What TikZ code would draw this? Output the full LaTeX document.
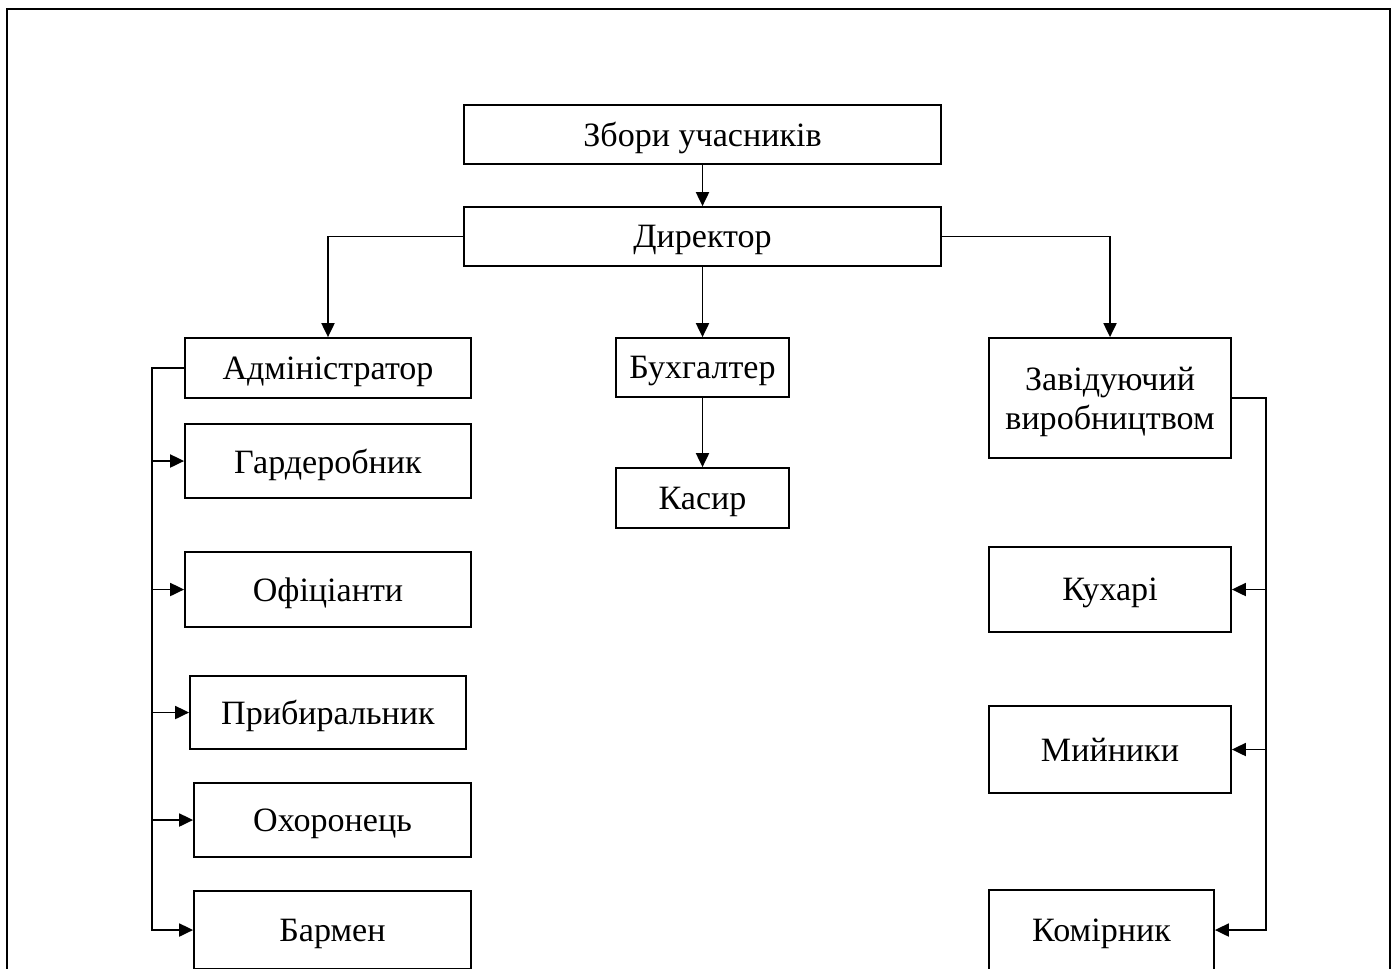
\documentclass[tikz,border=0pt]{standalone}
\usepackage{fontspec}
\setmainfont{Liberation Serif}
\usetikzlibrary{positioning,arrows.meta}

\begin{document}
\begin{tikzpicture}[x=0.02cm, y=-0.02cm,
  box/.style={draw, line width=1pt, inner sep=0pt, align=center, text depth=0pt,
    font=\fontsize{19.4}{22}\selectfont},
  arr/.style={line width=1.1pt, -{Triangle[length=0.28cm,width=0.26cm]}}]
\useasboundingbox (0,0) rectangle (1395,968);
\clip (0,0) rectangle (1395,968);

% outer frame
\draw[line width=1.5pt] (7,9) rectangle (1390,1000);

\def\xm{702.5};
\def\xl{328};
\def\xr{1110};

% top
\node[box, minimum width=477*0.02cm, minimum height=59*0.02cm] (zbory) at (\xm, 134.5) {Збори учасників};
\node[box, minimum width=477*0.02cm, minimum height=59*0.02cm] (dyrektor) at (\xm, 236.5) {Директор};

% middle column
\node[box, minimum width=173*0.02cm, minimum height=59*0.02cm] (buh) at (\xm, 367.5) {Бухгалтер};
\node[box, minimum width=173*0.02cm, minimum height=60*0.02cm] (kasyr) at (\xm, 498) {Касир};

% left column
\node[box, minimum width=286*0.02cm, minimum height=60*0.02cm] (admin) at (\xl, 368) {Адміністратор};
\node[box, minimum width=286*0.02cm, minimum height=74*0.02cm] (garderob) at (\xl, 461) {Гардеробник};
\node[box, minimum width=286*0.02cm, minimum height=75*0.02cm] (ofits) at (\xl, 589.5) {Офіціанти};
\node[box, minimum width=276*0.02cm, minimum height=73*0.02cm] (prybyr) at (\xl, 712.5) {Прибиральник};
\node[box, minimum width=277*0.02cm, minimum height=74*0.02cm] (okhor) at (332.5, 820) {Охоронець};
\node[box, minimum width=277*0.02cm, minimum height=78*0.02cm] (barmen) at (332.5, 930) {Бармен};

% right column
\node[box, minimum width=242*0.02cm, minimum height=120*0.02cm] (zav) at (\xr, 398) {Завідуючий\\виробництвом};
\node[box, minimum width=242*0.02cm, minimum height=85*0.02cm] (kukhari) at (\xr, 589.5) {Кухарі};
\node[box, minimum width=242*0.02cm, minimum height=87*0.02cm] (myinyky) at (\xr, 749.5) {Мийники};
\node[box, minimum width=225*0.02cm, minimum height=80*0.02cm] (komirnyk) at (1101.5, 930) {Комірник};

\coordinate (la) at (152, 368);
\coordinate (ra) at (1266, 398);

\draw[arr] (zbory) -- (dyrektor);
\draw[arr] (dyrektor.west) -| (admin.north);
\draw[arr] (dyrektor.east) -| (zav.north);
\draw[arr] (dyrektor) -- (buh);
\draw[arr] (buh) -- (kasyr);

\draw[arr] (admin.west) -- (la) |- (barmen.west);
\draw[arr] (la |- garderob) -- (garderob.west);
\draw[arr] (la |- ofits) -- (ofits.west);
\draw[arr] (la |- prybyr) -- (prybyr.west);
\draw[arr] (la |- okhor) -- (okhor.west);

\draw[arr] (zav.east) -- (ra) |- (komirnyk.east);
\draw[arr] (ra |- kukhari) -- (kukhari.east);
\draw[arr] (ra |- myinyky) -- (myinyky.east);
\end{tikzpicture}
\end{document}
